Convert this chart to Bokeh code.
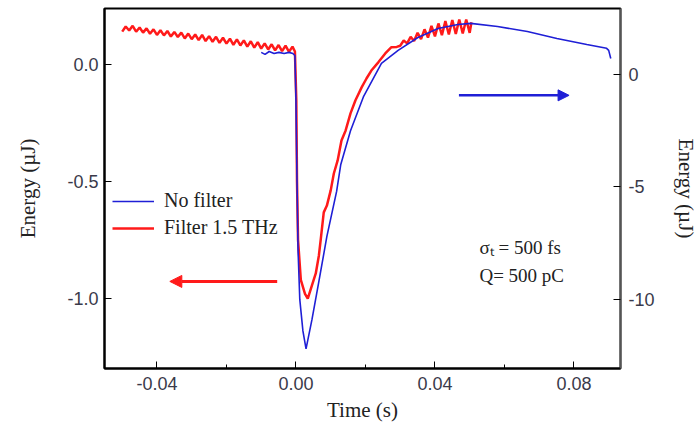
from bokeh.plotting import figure
from bokeh.models import (Range1d, LinearAxis, FixedTicker, NumeralTickFormatter,
                          Arrow, NormalHead, Legend, LegendItem, Label)
from bokeh.embed import file_html
from bokeh.resources import INLINE

# ---- data ----
# Blue: "No filter" (right axis, uJ)
blue_t = [-0.0100, -0.0089, -0.0077, -0.0063, -0.0049, -0.0034, -0.0020, -0.0009, -0.0003,
          0.0000, 0.0003, 0.0006, 0.0011, 0.0020, 0.0029,
          0.0046, 0.0066, 0.0089, 0.0117, 0.0129, 0.0157, 0.0194, 0.0246, 0.0294,
          0.0351, 0.0409, 0.0466, 0.0503,
          0.0580, 0.0666, 0.0751, 0.0837, 0.0894, 0.0900, 0.0906]
blue_e = [0.98, 0.89, 1.02, 0.93, 0.98, 0.93, 0.98, 0.93, 0.84,
          -1.16, -4.7, -7.8, -10.0, -11.4, -12.2,
          -10.9, -9.2, -7.2, -5.2, -4.0, -2.5, -1.0, 0.49, 1.07,
          1.64, 2.04, 2.22, 2.27,
          2.13, 1.91, 1.60, 1.33, 1.16, 1.07, 0.71]

# Red: "Filter 1.5 THz" (left axis, uJ)
red_t = [-0.050, -0.049, -0.048, -0.047, -0.046, -0.045, -0.044, -0.043, -0.042, -0.041,
         -0.040, -0.039, -0.038, -0.037, -0.036, -0.035, -0.034, -0.033, -0.032, -0.031,
         -0.030, -0.029, -0.028, -0.027, -0.026, -0.025, -0.024, -0.023, -0.022, -0.021,
         -0.020, -0.019, -0.018, -0.017, -0.016, -0.015, -0.014, -0.013, -0.012, -0.011,
         -0.010, -0.009, -0.008, -0.007, -0.006, -0.005, -0.004, -0.003, -0.002, -0.001,
         -0.0003,
         0.0001, 0.0003, 0.0006, 0.0014, 0.0026, 0.0034,
         0.0046, 0.0057, 0.0066, 0.0071, 0.0080, 0.0089, 0.0100, 0.0109, 0.0120, 0.0131,
         0.0143, 0.0157, 0.0171, 0.0189, 0.0203, 0.0217, 0.0237, 0.0257, 0.0274, 0.0290,
         0.030, 0.031, 0.032, 0.033, 0.034, 0.035, 0.036, 0.037, 0.038, 0.039,
         0.040, 0.041, 0.042, 0.043, 0.044, 0.045, 0.046, 0.047, 0.048, 0.049,
         0.050, 0.0505]
red_e = [0.140, 0.162, 0.145, 0.165, 0.140, 0.158, 0.136, 0.154, 0.131, 0.150,
         0.126, 0.146, 0.124, 0.143, 0.119, 0.139, 0.117, 0.136, 0.111, 0.132,
         0.108, 0.128, 0.104, 0.126, 0.100, 0.121, 0.097, 0.118, 0.092, 0.114,
         0.089, 0.110, 0.084, 0.107, 0.081, 0.103, 0.076, 0.099, 0.072, 0.095,
         0.068, 0.090, 0.064, 0.086, 0.060, 0.083, 0.057, 0.080, 0.054, 0.076,
         0.055,
         -0.154, -0.50, -0.75, -0.92, -0.98, -1.00,
         -0.944, -0.893, -0.816, -0.752, -0.632, -0.603, -0.538, -0.466, -0.410, -0.325,
         -0.282, -0.209, -0.154, -0.098, -0.060, -0.026, 0.009, 0.047, 0.073, 0.075,
         0.080, 0.102, 0.090, 0.118, 0.100, 0.135, 0.108, 0.150, 0.115, 0.165,
         0.120, 0.175, 0.125, 0.185, 0.128, 0.190, 0.130, 0.192, 0.132, 0.192,
         0.135, 0.180]

x_ticks = [-0.04, 0.00, 0.04, 0.08]
x_minor = [-0.02, 0.02, 0.06]
left_ticks = [-1.0, -0.5, 0.0]
right_ticks = [-10, -5, 0]

labels = ["No filter", "Filter 1.5 THz"]
note1 = "σₜ = 500 fs"
note2 = "Q= 500 pC"

# annotation anchors (data units)
red_arrow = dict(x0=-0.0054, x1=-0.0363, y=-0.927)
blue_arrow = dict(x0=0.0469, x1=0.0786, y=-0.93)
note_pos = dict(x=0.0528, y1=-0.782, y2=-0.902)

SERIF = "Liberation Serif"
SANS = "Liberation Sans"
RED = "#ff1a1a"
BLUE = "#1f1fd6"

p = figure(width=700, height=427, output_backend="svg", toolbar_location=None,
           x_range=Range1d(-0.0551, 0.0934), y_range=Range1d(-1.299, 0.239),
           min_border_left=104, min_border_right=75, min_border_top=8, min_border_bottom=59)
p.extra_y_ranges = {"right": Range1d(-13.07, 2.93)}
p.grid.visible = False
p.outline_line_color = "black"
p.outline_line_width = 2
p.background_fill_color = "white"
p.border_fill_color = "white"

# axes
def style_axis(ax, tick_in=7):
    ax.major_tick_in = tick_in
    ax.major_tick_out = 0
    ax.minor_tick_in = 4
    ax.minor_tick_out = 0
    ax.major_label_text_font = SANS
    ax.major_label_text_font_size = "18px"
    ax.major_label_text_color = "#3a3a4a"
    ax.axis_label_text_font = SERIF
    ax.axis_label_text_font_size = "21px"
    ax.axis_label_text_font_style = "normal"
    ax.axis_label_text_color = "#222222"
    ax.axis_line_width = 2
    ax.axis_line_color = "black"

xa = p.xaxis[0]
xa.ticker = FixedTicker(ticks=x_ticks, minor_ticks=x_minor)
xa.formatter = NumeralTickFormatter(format="0.00")
xa.axis_label = "Time (s)"
style_axis(xa)
xa.major_label_standoff = 8
xa.axis_label_standoff = 5

ya = p.yaxis[0]
ya.ticker = FixedTicker(ticks=left_ticks, minor_ticks=[])
ya.formatter = NumeralTickFormatter(format="0.0")
ya.axis_label = "Energy (µJ)"
style_axis(ya)
ya.major_label_standoff = 6
ya.axis_label_standoff = 24

yr = LinearAxis(y_range_name="right")
yr.ticker = FixedTicker(ticks=right_ticks, minor_ticks=[])
yr.formatter = NumeralTickFormatter(format="0")
yr.axis_label = "Energy (µJ)"
style_axis(yr)
yr.axis_line_color = "#555555"
yr.axis_line_width = 1.5
yr.major_label_standoff = 8
yr.axis_label_standoff = 16
p.add_layout(yr, "right")

# lines
r_red = p.line(red_t, red_e, line_color=RED, line_width=2.5)
r_blue = p.line(blue_t, blue_e, line_color=BLUE, line_width=1.6, y_range_name="right")

# arrows
p.add_layout(Arrow(x_start=red_arrow["x0"], y_start=red_arrow["y"],
                   x_end=red_arrow["x1"], y_end=red_arrow["y"],
                   line_color=RED, line_width=3,
                   end=NormalHead(size=12, fill_color=RED, line_color=RED)))
p.add_layout(Arrow(x_start=blue_arrow["x0"], y_start=blue_arrow["y"],
                   x_end=blue_arrow["x1"], y_end=blue_arrow["y"],
                   y_range_name="right",
                   line_color=BLUE, line_width=2.5,
                   end=NormalHead(size=11, fill_color=BLUE, line_color=BLUE)))

# notes
p.add_layout(Label(x=note_pos["x"], y=note_pos["y1"], text=note1, text_font=SERIF,
                   text_font_size="19px", text_color="#222222", text_baseline="middle"))
p.add_layout(Label(x=note_pos["x"], y=note_pos["y2"], text=note2, text_font=SERIF,
                   text_font_size="19px", text_color="#222222", text_baseline="middle"))

# legend
legend = Legend(items=[LegendItem(label=labels[0], renderers=[r_blue]),
                       LegendItem(label=labels[1], renderers=[r_red])],
                location=(8, 129), background_fill_alpha=0, border_line_alpha=0,
                glyph_width=42, glyph_height=20, label_height=20, spacing=4,
                padding=0, margin=0, label_standoff=10,
                label_text_font=SERIF, label_text_font_size="20px",
                label_text_color="#222222")
p.add_layout(legend)

open("out.html", "w").write(file_html(p, INLINE))
